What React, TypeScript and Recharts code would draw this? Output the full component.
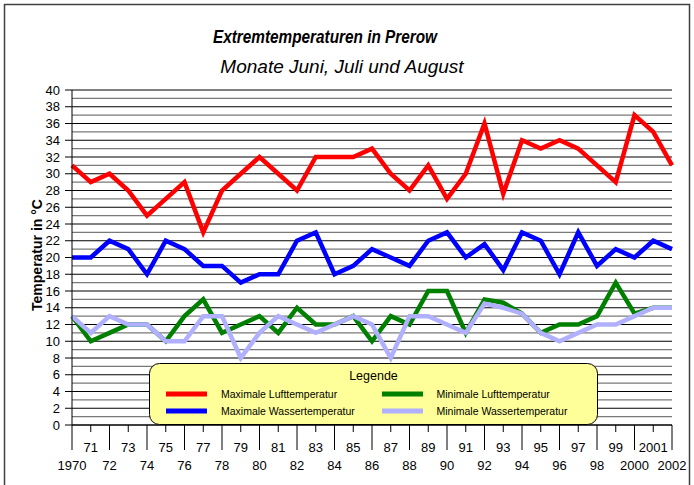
import React from 'react';
import { LineChart, Line, XAxis, YAxis, CartesianGrid } from 'recharts';

const years = [1970,1971,1972,1973,1974,1975,1976,1977,1978,1979,1980,1981,1982,1983,1984,1985,1986,1987,1988,1989,1990,1991,1992,1993,1994,1995,1996,1997,1998,1999,2000,2001,2002];
const maxLuft = [31,29,30,28,25,27,29,23,28,30,32,30,28,32,32,32,33,30,28,31,27,30,36,27.6,34,33,34,33,31,29,37,35,31];
const maxWasser = [20,20,22,21,18,22,21,19,19,17,18,18,22,23,18,19,21,20,19,22,23,20,21.6,18.5,23,22,18,23,19,21,20,22,21];
const minLuft = [13,10,11,12,12,10,13,15,11,12,13,11,14,12,12,13,10,13,12,16,16,11,15,14.6,13.3,11,12,12,13,17,13.3,14,14];
const minWasser = [13,11,13,12,12,10,10,13,13,8,11,13,12,11,12,13,12,8,13,13,12,11,14.5,14,13.3,11,10,11,12,12,13,14,14];
const yTicks = [0,1,2,3,4,5,6,7,8,9,10,11,12,13,14,15,16,17,18,19,20,21,22,23,24,25,26,27,28,29,30,31,32,33,34,35,36,37,38,39,40];

const seriesNames = ['Maximale Lufttemperatur','Maximale Wassertemperatur','Minimale Lufttemperatur','Minimale Wassertemperatur'];
const seriesColors = ['#FF0000','#0000FF','#008000','#B0B0FF'];

const data = years.map((y, i) => ({
  year: y,
  maxLuft: maxLuft[i],
  maxWasser: maxWasser[i],
  minLuft: minLuft[i],
  minWasser: minWasser[i],
}));

const FONT = "Arial, 'Liberation Sans', sans-serif";

const yearLabel = (yr: number) => (yr === 1970 || yr >= 2000 ? String(yr) : String(yr % 100).padStart(2, '0'));

const XTick = (props: any) => {
  const { x, y, payload } = props;
  const yr = Number(payload.value);
  const even = yr % 2 === 0;
  return (
    <g>
      <line x1={x} x2={x} y1={y} y2={y + (even ? 25 : 7)} stroke="#000" strokeWidth={1} />
      <text x={x} y={y + (even ? 44.5 : 26.5)} textAnchor="middle" fontSize={13} fill="#000" fontFamily={FONT}>
        {yearLabel(yr)}
      </text>
    </g>
  );
};

const YTick = (props: any) => {
  const { x, y, payload } = props;
  const v = Number(payload.value);
  if (v % 2 !== 0) return <g />;
  return (
    <g>
      <line x1={x - 7} x2={x} y1={y} y2={y} stroke="#000" strokeWidth={1} />
      <text x={x - 12} y={y + 4.6} textAnchor="end" fontSize={13} fill="#000" fontFamily={FONT}>
        {v}
      </text>
    </g>
  );
};

const gridLine = (props: any) => {
  const { x1, x2, y1, y2, index, key } = props;
  const even = (index ?? 0) % 2 === 0;
  return <line key={key} x1={x1} x2={x2} y1={y1} y2={y2} stroke={even ? '#000' : '#7a7a7a'} strokeWidth={1.2} />;
};

export default function App() {
  return (
    <div style={{ position: 'absolute', left: 0, top: 0, width: 694, height: 485, background: '#fff', overflow: 'hidden' }}>
      <LineChart width={694} height={485} data={data} margin={{ top: 90, right: 22, left: 0, bottom: 0 }}>
        <CartesianGrid vertical={false} horizontal={gridLine} />
        <XAxis
          dataKey="year"
          interval={0}
          height={60}
          tickSize={0}
          tickMargin={0}
          tickLine={false}
          axisLine={{ stroke: '#000' }}
          tick={<XTick />}
        />
        <YAxis
          domain={[0, 40]}
          ticks={yTicks}
          interval={0}
          width={72}
          tickSize={0}
          tickMargin={0}
          tickLine={false}
          axisLine={{ stroke: '#000' }}
          tick={<YTick />}
        />
        <YAxis yAxisId="r" orientation="right" domain={[0, 40]} width={0} tick={false} tickLine={false} axisLine={{ stroke: '#000' }} />
        <Line dataKey="maxLuft" stroke={seriesColors[0]} strokeWidth={4.5} dot={false} isAnimationActive={false} strokeLinejoin="miter" />
        <Line dataKey="maxWasser" stroke={seriesColors[1]} strokeWidth={4.5} dot={false} isAnimationActive={false} strokeLinejoin="miter" />
        <Line dataKey="minLuft" stroke={seriesColors[2]} strokeWidth={4.5} dot={false} isAnimationActive={false} strokeLinejoin="miter" />
        <Line dataKey="minWasser" stroke={seriesColors[3]} strokeWidth={4.5} dot={false} isAnimationActive={false} strokeLinejoin="miter" />
      </LineChart>
      <svg width={694} height={485} style={{ position: 'absolute', left: 0, top: 0, pointerEvents: 'none' }}>
        <rect x={4.5} y={4.5} width={685} height={500} fill="none" stroke="#404040" strokeWidth={1.5} />
        <text x={325} y={43} textAnchor="middle" fontSize={17.5} fontWeight="bold" fontStyle="italic" fontFamily={FONT} textLength={224} lengthAdjust="spacingAndGlyphs">
          Extremtemperaturen in Prerow
        </text>
        <text x={342} y={73} textAnchor="middle" fontSize={19} fontStyle="italic" fontFamily={FONT}>
          Monate Juni, Juli und August
        </text>
        <text transform="translate(42,255) rotate(-90)" textAnchor="middle" fontSize={14} fontWeight="bold" fontFamily={FONT}>
          Temperatur in °C
        </text>
        <rect x={149.5} y={363.5} width={448} height={61} rx={10} ry={10} fill="#FFFF99" stroke="#000" strokeWidth={1} />
        <text x={373.5} y={379.5} textAnchor="middle" fontSize={12.5} fontFamily={FONT}>Legende</text>
        {seriesNames.map((name, i) => {
          const col = i < 2 ? 0 : 1;
          const row = i % 2;
          const sx = col === 0 ? 166 : 382;
          const tx = col === 0 ? 221 : 436.5;
          const cy = row === 0 ? 394 : 411;
          return (
            <g key={name}>
              <rect x={sx} y={cy - 2.5} width={41} height={5} fill={seriesColors[i]} />
              <text x={tx} y={cy + 3.8} fontSize={10.5} fontFamily={FONT} fill="#000">{name}</text>
            </g>
          );
        })}
      </svg>
    </div>
  );
}
